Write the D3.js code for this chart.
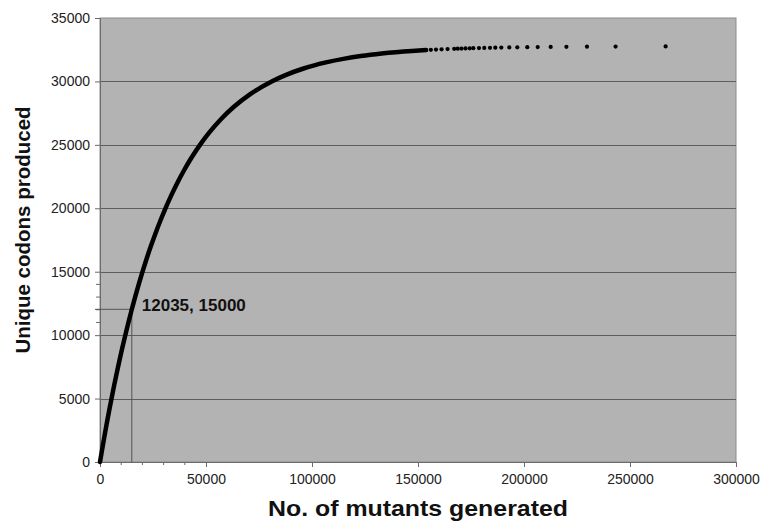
<!DOCTYPE html>
<html>
<head>
<meta charset="utf-8">
<script src="https://cdn.jsdelivr.net/npm/d3@7"></script>
<style>
  body { margin: 0; background: #fff; }
  text { font-family: Arial, "Liberation Sans", sans-serif; }
</style>
</head>
<body>
<div id="chart"></div>
<script>
// dense part of the curve
var curveX = [0, 1016, 2064, 3146, 4266, 5426, 6627, 7875, 9172, 10523, 11931, 13403, 14944, 16561,
  18262, 20056, 21954, 23969, 26116, 28414, 30884, 33557, 36467, 39661, 43200, 47168, 51684,
  56923, 63163, 70875, 80983, 87508, 95671, 100665, 106565, 115408, 122994, 127566, 132881, 147102, 153794];
var curveY = [0, 1000, 2000, 3000, 4000, 5000, 6000, 7000, 8000, 9000, 10000, 11000, 12000, 13000,
  14000, 15000, 16000, 17000, 18000, 19000, 20000, 21000, 22000, 23000, 24000, 25000, 26000,
  27000, 28000, 29000, 30000, 30500, 31000, 31250, 31500, 31800, 32000, 32100, 32200, 32400, 32468];

// separate points at the top
var dotX = [153794, 156056, 158484, 161108, 163958, 167081, 168762, 170533, 172405, 174390, 176090,
  178770, 181270, 183960, 186460, 189300, 193070, 196840, 201560, 206460, 212590, 220000, 229700, 243200, 266800];
var dotY = [32468, 32488, 32508, 32528, 32548, 32568, 32578, 32588, 32598, 32608, 32618,
  32628, 32638, 32648, 32658, 32668, 32678, 32688, 32698, 32708, 32718, 32728, 32738, 32748, 32758];

var xTicks = [0, 50000, 100000, 150000, 200000, 250000, 300000];
var yTicks = [0, 5000, 10000, 15000, 20000, 25000, 30000, 35000];
var xMinor = [10000, 20000, 30000, 40000];
var yMinor = [11000, 12000, 13000, 14000];
var markX = 15000, markY = 12035;
var markLabel = "12035, 15000";

var margin = { top: 18, right: 29, bottom: 61, left: 100 },
  width = 765 - margin.left - margin.right,
  height = 523 - margin.top - margin.bottom;

var svg = d3.select("#chart")
  .append("svg")
  .attr("width", 765)
  .attr("height", 523)
  .append("g")
  .attr("transform", "translate(" + margin.left + "," + margin.top + ")");

var x = d3.scaleLinear().domain([0, 300000]).range([0, width]);
var y = d3.scaleLinear().domain([0, 35000]).range([height, 0]);

// plot area
svg.append("rect")
  .attr("width", width)
  .attr("height", height)
  .attr("fill", "#b3b3b3")
  .attr("stroke", "#8c8c8c")
  .attr("stroke-width", 1);

// gridlines
svg.selectAll(".grid")
  .data(yTicks.slice(1, -1))
  .enter().append("line")
  .attr("x1", 0).attr("x2", width)
  .attr("y1", function (d) { return Math.round(y(d)) + 0.5; })
  .attr("y2", function (d) { return Math.round(y(d)) + 0.5; })
  .attr("stroke", "#5e5e5e");

// axes
var xAxis = svg.append("g")
  .attr("transform", "translate(0," + height + ")")
  .call(d3.axisBottom(x).tickValues(xTicks).tickSize(5).tickFormat(d3.format("d")));
var yAxis = svg.append("g")
  .call(d3.axisLeft(y).tickValues(yTicks).tickSize(5).tickFormat(d3.format("d")));

[xAxis, yAxis].forEach(function (a) {
  a.select(".domain").attr("stroke", "#6b6b6b");
  a.selectAll(".tick line").attr("stroke", "#6b6b6b");
  a.selectAll("text")
    .attr("fill", "#222")
    .style("font-size", "14px")
    .style("font-family", "Arial, 'Liberation Sans', sans-serif");
});
xAxis.selectAll("text").attr("dy", "1.0em");
yAxis.selectAll("text").attr("x", -10);

// minor ticks in the zoomed part
svg.selectAll(".xminor")
  .data(xMinor)
  .enter().append("line")
  .attr("x1", function (d) { return x(d); })
  .attr("x2", function (d) { return x(d); })
  .attr("y1", height).attr("y2", height + 3)
  .attr("stroke", "#6b6b6b");
svg.selectAll(".yminor")
  .data(yMinor)
  .enter().append("line")
  .attr("y1", function (d) { return y(d); })
  .attr("y2", function (d) { return y(d); })
  .attr("x1", -4).attr("x2", 0)
  .attr("stroke", "#6b6b6b");

// marker lines
svg.append("line")
  .attr("x1", x(markX)).attr("x2", x(markX))
  .attr("y1", height).attr("y2", y(markY))
  .attr("stroke", "#555");
svg.append("line")
  .attr("x1", -5).attr("x2", x(markX))
  .attr("y1", y(markY)).attr("y2", y(markY))
  .attr("stroke", "#555");

// the curve
var pts = curveX.map(function (d, i) { return [d, curveY[i]]; });
svg.append("path")
  .datum(pts)
  .attr("fill", "none")
  .attr("stroke", "#000")
  .attr("stroke-width", 4.5)
  .attr("stroke-linecap", "round")
  .attr("d", d3.line()
    .curve(d3.curveMonotoneX)
    .x(function (d) { return x(d[0]); })
    .y(function (d) { return y(d[1]); }));

svg.selectAll(".dot")
  .data(dotX)
  .enter().append("circle")
  .attr("cx", function (d) { return x(d); })
  .attr("cy", function (d, i) { return y(dotY[i]); })
  .attr("r", 2.1)
  .attr("fill", "#000");

// annotation
svg.append("text")
  .attr("x", x(markX) + 10)
  .attr("y", y(markY) + 2)
  .style("font-size", "17px")
  .style("font-weight", "bold")
  .attr("fill", "#111")
  .text(markLabel);

// axis titles
svg.append("text")
  .attr("x", width / 2)
  .attr("y", height + 54)
  .attr("text-anchor", "middle")
  .attr("textLength", 300)
  .attr("lengthAdjust", "spacingAndGlyphs")
  .style("font-size", "22px")
  .style("font-weight", "bold")
  .attr("fill", "#111")
  .text("No. of mutants generated");

svg.append("text")
  .attr("transform", "rotate(-90)")
  .attr("x", -height / 2 + 10)
  .attr("y", -70)
  .attr("text-anchor", "middle")
  .style("font-size", "20.5px")
  .style("font-weight", "bold")
  .attr("fill", "#111")
  .text("Unique codons produced");
</script>
</body>
</html>
